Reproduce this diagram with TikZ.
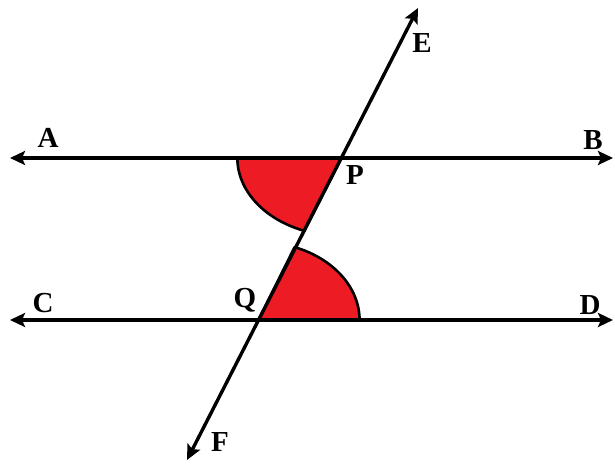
\documentclass[tikz,border=0pt]{standalone}
\usepackage{fontspec}
\setmainfont{Liberation Serif}
\usetikzlibrary{arrows.meta}
\definecolor{sred}{HTML}{ED1C24}

\begin{document}
\begin{tikzpicture}[x=1pt, y=1pt,
  lbl/.style={font=\fontsize{29}{34}\selectfont\bfseries, inner sep=0pt},
  ray/.style={line width=3.4pt, {Stealth[length=15pt,width=14pt,inset=3pt]}-{Stealth[length=15pt,width=14pt,inset=3pt]}},
  sector/.style={fill=sred, draw=black, line width=2.6pt, line join=round}]
\useasboundingbox (0,0) rectangle (615,463);
% ends of the lines
\coordinate (a) at (10,305);
\coordinate (b) at (613,305);
\coordinate (c) at (10,143);
\coordinate (d) at (613,143);
\coordinate (e) at (418,455);
\coordinate (f) at (187,3);
\coordinate (p) at (intersection of a--b and f--e);
\coordinate (q) at (intersection of c--d and f--e);
% the two shaded angles
\draw[sector] (p) -- ++(-104,0)
  arc[start angle=180, end angle=249.1, x radius=104, y radius=78] -- cycle;
\draw[sector] (q) -- ++(101,0)
  arc[start angle=0, end angle=69.1, x radius=101, y radius=78] -- cycle;
% lines
\draw[ray] (a) -- (b);
\draw[ray] (c) -- (d);
\draw[ray] (f) -- (e);
% labels
\node[lbl] (la) at (48,325) {A};
\node[lbl] (lb) at (593,323) {B};
\node[lbl] (lc) at (43,160) {C};
\node[lbl] (ld) at (590,158) {D};
\node[lbl] (le) at (422,420) {E};
\node[lbl] (lf) at (220,21) {F};
\node[lbl] (lp) at (355,288) {P};
\node[lbl] (lq) at (245,163) {Q};
\end{tikzpicture}
\end{document}
